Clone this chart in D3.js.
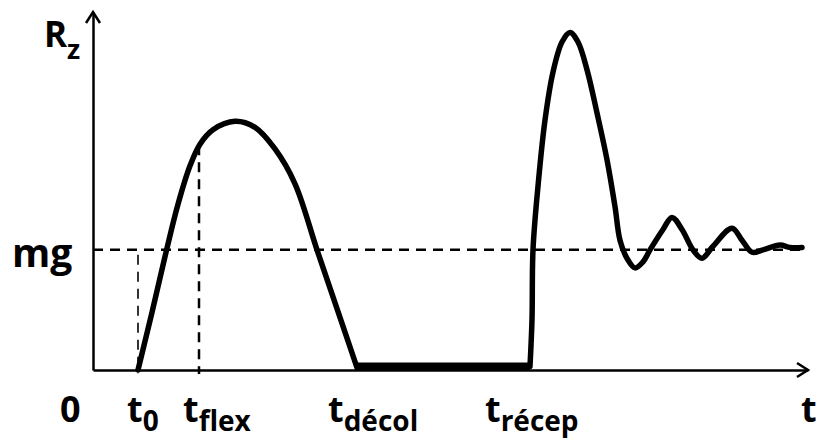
<!DOCTYPE html>
<html>
<head>
<meta charset="utf-8">
<script src="https://cdn.jsdelivr.net/npm/d3@7"></script>
<style>
  html, body { margin: 0; padding: 0; background: #fff; }
  svg { display: block; }
  text { font-family: "Open Sans", Lato, sans-serif; font-weight: 700; fill: #000; }
</style>
</head>
<body>
<svg id="chart" width="818" height="443"></svg>
<script>
// ---- data (time in arbitrary units, Rz in multiples of mg) ----
const pushOffT  = [45, 59, 73, 85, 97, 107, 120, 142, 162, 182, 202, 224, 244, 264];
const pushOffRz = [0, 0.48, 0.98, 1.38, 1.70, 1.88, 2.0, 2.07, 2.02, 1.84, 1.55, 1.0, 0.51, 0.02];

const flightT  = [264, 437];
const flightRz = [0.03, 0.03];

const landingT  = [437, 439, 440, 445, 452, 460, 469, 477, 485, 494, 504, 514, 522, 527, 534, 542, 550, 557, 570, 579, 589, 600, 609, 620, 639, 649, 659, 670, 687, 697, 709];
const landingRz = [0.03, 0.42, 1.0, 1.53, 2.08, 2.48, 2.73, 2.81, 2.73, 2.5, 2.14, 1.75, 1.36, 1.08, 0.93, 0.85, 0.9, 1.0, 1.17, 1.27, 1.17, 1.0, 0.93, 1.03, 1.18, 1.08, 0.98, 1.0, 1.04, 1.02, 1.02];

const mgLevel = 1;
const tickTimes = [0, 45, 106, 264, 437, 715];
const tickMain  = ["0", "t", "t", "t", "t", "t"];
const tickSub   = ["", "0", "flex", "décol", "récep", ""];
const guideTimes = [45, 106];
const guideTops  = [0.96, 1.87];
const yLabel = "R";
const yLabelSub = "z";
const mgLabel = "mg";

// ---- layout ----
const svg = d3.select("#chart");
const x = d3.scaleLinear().domain([0, 715]).range([93, 808]);
const y = d3.scaleLinear().domain([0, 2.98]).range([370, 12]);

const line = d3.line()
  .x(d => x(d[0])).y(d => y(d[1]))
  .curve(d3.curveCatmullRom.alpha(0.5));

// mg dashed line
svg.append("line")
  .attr("x1", x(0)).attr("x2", x(712))
  .attr("y1", y(mgLevel)).attr("y2", y(mgLevel))
  .attr("stroke", "#000").attr("stroke-width", 2.5)
  .attr("stroke-dasharray", "10,7");

// vertical guides
guideTimes.forEach((t, i) => {
  svg.append("line")
    .attr("x1", x(t)).attr("x2", x(t))
    .attr("y1", y(guideTops[i])).attr("y2", y(0) + 4)
    .attr("stroke", i === 0 ? "#333" : "#000")
    .attr("stroke-width", i === 0 ? 2 : 2.5)
    .attr("stroke-dasharray", "10,7");
});

// axes
const xAxis = d3.axisBottom(x).tickValues([]).tickSizeOuter(0);
const yAxis = d3.axisLeft(y).tickValues([]).tickSizeOuter(0);
const gx = svg.append("g").attr("transform", `translate(0,${y(0)})`).call(xAxis);
const gy = svg.append("g").attr("transform", `translate(${x(0)},0)`).call(yAxis);
[gx, gy].forEach(g => g.select(".domain").attr("stroke", "#000").attr("stroke-width", 2.5));

// arrowheads
const xe = x(715), ye = y(0);
svg.append("path")
  .attr("d", `M${xe - 11},${ye - 7} L${xe},${ye} L${xe - 11},${ye + 7}`)
  .attr("fill", "none").attr("stroke", "#000").attr("stroke-width", 2.5);
const yx = x(0), yt = y(2.98);
svg.append("path")
  .attr("d", `M${yx - 7},${yt + 11} L${yx},${yt} L${yx + 7},${yt + 11}`)
  .attr("fill", "none").attr("stroke", "#000").attr("stroke-width", 2.5);

// curves
const pushOff = pushOffT.map((t, i) => [t, pushOffRz[i]]);
const landing = landingT.map((t, i) => [t, landingRz[i]]);
const flight = flightT.map((t, i) => [t, flightRz[i]]);

svg.append("path").datum(pushOff).attr("d", line)
  .attr("fill", "none").attr("stroke", "#000").attr("stroke-width", 5.5)
  .attr("stroke-linecap", "round").attr("stroke-linejoin", "round");
svg.append("path").datum(flight).attr("d", d3.line().x(d => x(d[0])).y(d => y(d[1])))
  .attr("fill", "none").attr("stroke", "#000").attr("stroke-width", 8);
svg.append("path").datum(landing).attr("d", line)
  .attr("fill", "none").attr("stroke", "#000").attr("stroke-width", 5.5)
  .attr("stroke-linecap", "round").attr("stroke-linejoin", "round");

// tick labels
const labelDx = [-33, -11, -16, -29, -45, -7];
tickTimes.forEach((t, i) => {
  const txt = svg.append("text")
    .attr("x", x(t) + labelDx[i]).attr("y", 422)
    .attr("font-size", 36);
  txt.append("tspan").text(tickMain[i]);
  if (tickSub[i]) {
    txt.append("tspan").attr("font-size", 28).attr("dy", 9).text(tickSub[i]);
  }
});

// y label
const yl = svg.append("text").attr("x", 44).attr("y", 47).attr("font-size", 35);
yl.append("tspan").text(yLabel);
yl.append("tspan").attr("font-size", 27).attr("dy", 12).text(yLabelSub);

// mg label
svg.append("text").attr("x", 12).attr("y", y(mgLevel) + 17)
  .attr("font-size", 39).text(mgLabel);
</script>
</body>
</html>
